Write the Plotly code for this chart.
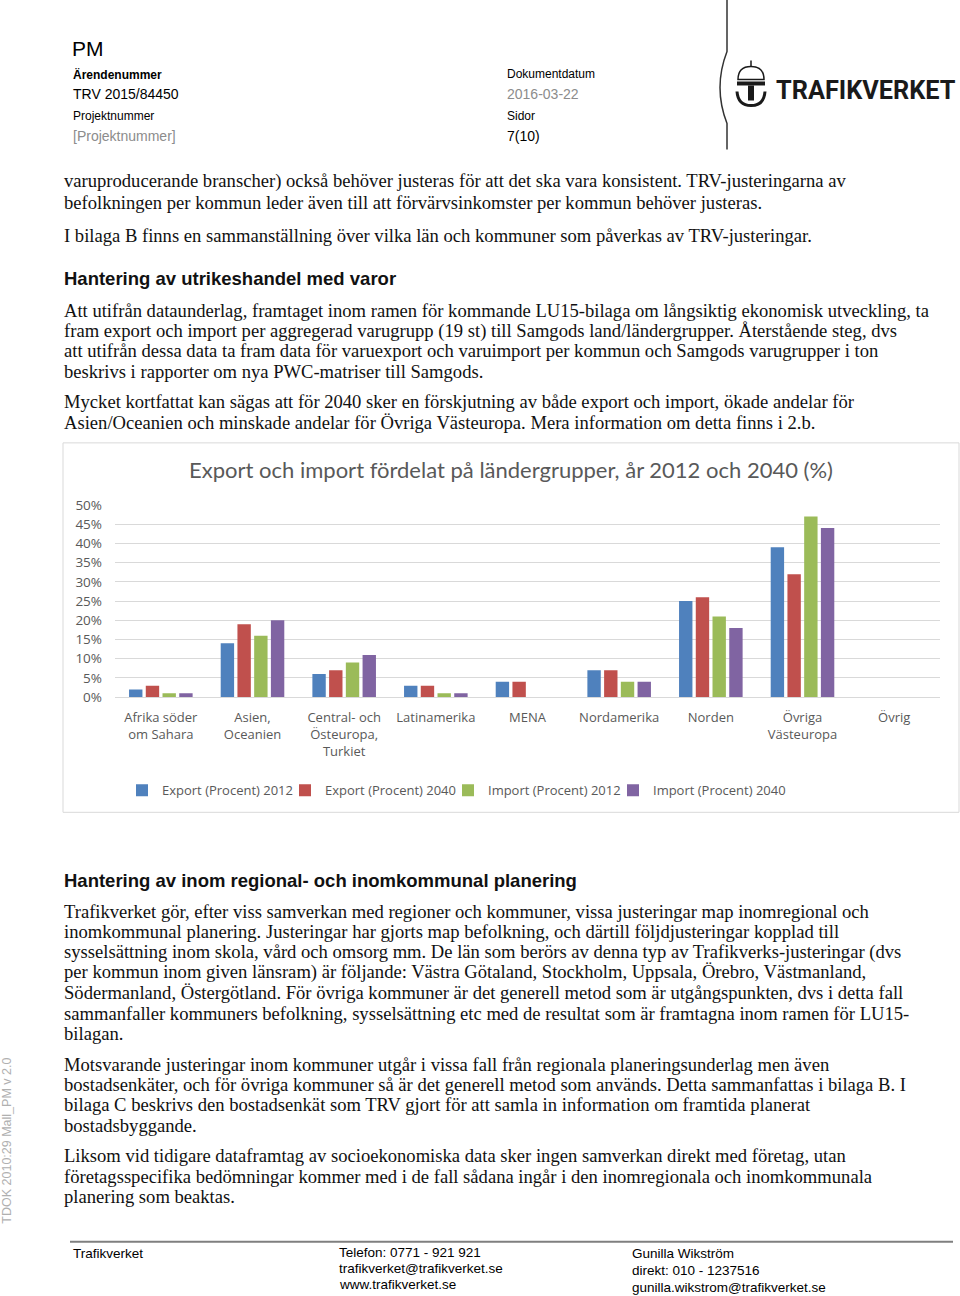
import plotly.graph_objects as go

W, H = 960, 1296
# Fotot av sidan trycker ihop hojden nagot och flyttar ned innehallet;
# kompensera sa att sidans pixlar hamnar dar referensen har dem.
SKALA_Y, FORSKJ_Y = 0.985, 9.6

# --- data -------------------------------------------------------------------
KATEGORIER = [
    "Afrika söder<br>om Sahara",
    "Asien,<br>Oceanien",
    "Central- och<br>Östeuropa,<br>Turkiet",
    "Latinamerika",
    "MENA",
    "Nordamerika",
    "Norden",
    "Övriga<br>Västeuropa",
    "Övrig",
]
EXPORT_2012 = [2, 14, 6, 3, 4, 7, 25, 39, 0]
EXPORT_2040 = [3, 19, 7, 3, 4, 7, 26, 32, 0]
IMPORT_2012 = [1, 16, 9, 1, 0, 4, 21, 47, 0]
IMPORT_2040 = [1, 20, 11, 1, 0, 4, 18, 44, 0]
SERIENAMN = [
    "Export (Procent) 2012",
    "Export (Procent) 2040",
    "Import (Procent) 2012",
    "Import (Procent) 2040",
]
FARGER = ["#4F81BD", "#C0504D", "#9BBB59", "#8064A2"]
Y_TICKS = [0, 5, 10, 15, 20, 25, 30, 35, 40, 45, 50]

TITEL = "Export och import fördelat på ländergrupper, år 2012 och 2040 (%)"

STYCKEN_OVER = [
    (181, "varuproducerande branscher) också behöver justeras för att det ska vara konsistent. TRV-justeringarna av"),
    (203, "befolkningen per kommun leder även till att förvärvsinkomster per kommun behöver justeras."),
    (236, "I bilaga B finns en sammanställning över vilka län och kommuner som påverkas av TRV-justeringar."),
    (311, "Att utifrån dataunderlag, framtaget inom ramen för kommande LU15-bilaga om långsiktig ekonomisk utveckling, ta"),
    (331, "fram export och import per aggregerad varugrupp (19 st) till Samgods land/ländergrupper. Återstående steg, dvs"),
    (351, "att utifrån dessa data ta fram data för varuexport och varuimport per kommun och Samgods varugrupper i ton"),
    (372, "beskrivs i rapporter om nya PWC-matriser till Samgods."),
    (402, "Mycket kortfattat kan sägas att för 2040 sker en förskjutning av både export och import, ökade andelar för"),
    (423, "Asien/Oceanien och minskade andelar för Övriga Västeuropa. Mera information om detta finns i 2.b."),
]
STYCKEN_UNDER = [
    (911, "Trafikverket gör, efter viss samverkan med regioner och kommuner, vissa justeringar map inomregional och"),
    (931, "inomkommunal planering. Justeringar har gjorts map befolkning, och därtill följdjusteringar kopplad till"),
    (952, "sysselsättning inom skola, vård och omsorg mm. De län som berörs av denna typ av Trafikverks-justeringar (dvs"),
    (972, "per kommun inom given länsram) är följande: Västra Götaland, Stockholm, Uppsala, Örebro, Västmanland,"),
    (992, "Södermanland, Östergötland. För övriga kommuner är det generell metod som är utgångspunkten, dvs i detta fall"),
    (1013, "sammanfaller kommuners befolkning, sysselsättning etc med de resultat som är framtagna inom ramen för LU15-"),
    (1033, "bilagan."),
    (1064, "Motsvarande justeringar inom kommuner utgår i vissa fall från regionala planeringsunderlag men även"),
    (1084, "bostadsenkäter, och för övriga kommuner så är det generell metod som används. Detta sammanfattas i bilaga B. I"),
    (1104, "bilaga C beskrivs den bostadsenkät som TRV gjort för att samla in information om framtida planerat"),
    (1125, "bostadsbyggande."),
    (1155, "Liksom vid tidigare dataframtag av socioekonomiska data sker ingen samverkan direkt med företag, utan"),
    (1176, "företagsspecifika bedömningar kommer med i de fall sådana ingår i den inomregionala och inomkommunala"),
    (1196, "planering som beaktas."),
]
RUBRIKER = [
    (279, "Hantering av utrikeshandel med varor"),
    (880, "Hantering av inom regional- och inomkommunal planering"),
]

SERIF = "Liberation Serif, serif"
SANS = "Liberation Sans Narrow, Liberation Sans, Arial, sans-serif"
DIAGRAM = "Open Sans, sans-serif"
GRA = "#595959"

# en legend per serie, placerad dar Excel-legenden har sin text (px)
LEGEND_TEXT_X = [162, 325, 488, 653]
LEGEND_Y = 790


def px(x):
    """Referensens x-pixel -> paper-koordinat."""
    return x / W


def py(y):
    """Referensens y-pixel (uppifran) -> paper-koordinat."""
    return 1 - (y - FORSKJ_Y) / SKALA_Y / H


def text(x, y, s, size, color="#000000", family=SANS, **extra):
    return dict(
        x=px(x), y=py(y), xref="paper", yref="paper", text=s,
        showarrow=False, xanchor="left", yanchor="middle", borderpad=0,
        font={"size": size, "color": color, "family": family}, **extra,
    )


fig = go.Figure()
serier = [EXPORT_2012, EXPORT_2040, IMPORT_2012, IMPORT_2040]
for i, (namn, varden, farg) in enumerate(zip(SERIENAMN, serier, FARGER)):
    fig.add_trace(
        go.Bar(
            x=KATEGORIER, y=varden, name=namn, showlegend=True,
            marker={"color": farg, "line": {"width": 0}},
            legend="legend" if i == 0 else f"legend{i + 1}",
        )
    )

anteckningar = []
# sidhuvud
anteckningar.append(text(71, 49, "PM", 21))
for x, y, s, size, color, fet in [
    (72, 75, "Ärendenummer", 12, "#000000", True),
    (72, 95, "TRV 2015/84450", 14, "#000000", False),
    (72, 116, "Projektnummer", 12, "#000000", False),
    (72, 136, "[Projektnummer]", 14, "#8c8c8c", False),
    (506, 75, "Dokumentdatum", 12, "#000000", False),
    (506, 95, "2016-03-22", 14, "#8c8c8c", False),
    (506, 116, "Sidor", 12, "#000000", False),
    (506, 136, "7(10)", 14, "#000000", False),
]:
    anteckningar.append(text(x, y, f"<b>{s}</b>" if fet else s, size, color))
anteckningar.append(text(775, 91, "<b>TRAFIKVERKET</b>", 25.3, "#1a1a1a", "Roboto, sans-serif"))

# brodtext
for y, s in STYCKEN_OVER + STYCKEN_UNDER:
    anteckningar.append(text(63, y, s, 18.6, "#111111", SERIF))
for y, s in RUBRIKER:
    anteckningar.append(text(63, y, f"<b>{s}</b>", 18.5, "#111111", "Liberation Sans, Arial, sans-serif"))

# sidfot
for x, y, s in [
    (72, 1253, "Trafikverket"),
    (338, 1252, "Telefon: 0771 - 921 921"),
    (338, 1268, "trafikverket@trafikverket.se"),
    (338, 1284, "www.trafikverket.se"),
    (631, 1253, "Gunilla Wikström"),
    (631, 1270, "direkt: 010 - 1237516"),
    (631, 1287, "gunilla.wikstrom@trafikverket.se"),
]:
    anteckningar.append(text(x, y, s, 13.5))
anteckningar.append(dict(
    x=px(7), y=py(1140), xref="paper", yref="paper", text="TDOK 2010:29 Mall_PM v 2.0",
    showarrow=False, textangle=-90, xanchor="center", yanchor="middle",
    font={"size": 12.5, "color": "#b0b0b0", "family": "Liberation Sans, Arial, sans-serif"},
))

former = [
    # ram runt diagrammet
    dict(type="rect", xref="paper", yref="paper", x0=px(63), x1=px(959), y0=py(812), y1=py(443),
         line={"color": "#d9d9d9", "width": 1}),
    # sidfotslinje
    dict(type="line", xref="paper", yref="paper", x0=px(70), x1=px(953), y0=py(1241), y1=py(1241),
         line={"color": "#7f7f7f", "width": 2}),
    # logotypens bagade linje
    dict(type="path", xref="paper", yref="paper",
         path=(f"M {px(727)} {py(0)} L {px(727)} {py(52)} "
               f"Q {px(713)} {py(88)} {px(727)} {py(124)} L {px(727)} {py(150)}"),
         line={"color": "#333333", "width": 1.5}),
    # enkel krona/T-symbol
    dict(type="path", xref="paper", yref="paper",
         path=(f"M {px(738)} {py(80)} Q {px(738)} {py(67)} {px(751)} {py(67)} "
               f"Q {px(764)} {py(67)} {px(764)} {py(80)} Z"),
         line={"color": "#1a1a1a", "width": 1.5}, fillcolor="rgba(0,0,0,0)"),
    dict(type="line", xref="paper", yref="paper", x0=px(751), x1=px(751), y0=py(61), y1=py(67),
         line={"color": "#1a1a1a", "width": 1.5}),
    dict(type="rect", xref="paper", yref="paper", x0=px(737), x1=px(765), y0=py(86), y1=py(82),
         line={"width": 0}, fillcolor="#1a1a1a"),
    dict(type="rect", xref="paper", yref="paper", x0=px(748), x1=px(754), y0=py(101), y1=py(86),
         line={"width": 0}, fillcolor="#1a1a1a"),
    dict(type="path", xref="paper", yref="paper",
         path=(f"M {px(737)} {py(92)} Q {px(738)} {py(106)} {px(751)} {py(106)} "
               f"Q {px(764)} {py(106)} {px(765)} {py(92)}"),
         line={"color": "#1a1a1a", "width": 3}),
]

legender = {}
for i, tx in enumerate(LEGEND_TEXT_X):
    legender["legend" if i == 0 else f"legend{i + 1}"] = {
        "orientation": "h",
        "x": px(tx - 40), "xanchor": "left",
        "y": py(LEGEND_Y), "yanchor": "middle",
        "font": {"size": 13, "color": GRA, "family": DIAGRAM},
        "itemwidth": 30,
        "bgcolor": "rgba(0,0,0,0)",
    }

fig.update_layout(
    width=W,
    height=H,
    margin={"l": 0, "r": 0, "t": 0, "b": 0},
    paper_bgcolor="white",
    plot_bgcolor="white",
    showlegend=True,
    barmode="group",
    bargap=0.27,
    bargroupgap=0.2,
    title={
        "text": TITEL, "x": px(511), "xanchor": "center", "y": py(473), "yanchor": "middle",
        "font": {"size": 22, "color": GRA, "family": "Lato, Open Sans, sans-serif"},
    },
    xaxis={
        "domain": [px(115), px(940)],
        "tickfont": {"size": 13, "color": GRA, "family": DIAGRAM},
        "showline": True,
        "linecolor": "#d9d9d9",
        "ticks": "",
        "tickangle": 0,
        "ticklabelstandoff": 8,
    },
    yaxis={
        "domain": [py(697), py(505)],
        "range": [0, 50],
        "tickvals": Y_TICKS,
        "ticktext": [f"{v}%" for v in Y_TICKS],
        "tickfont": {"size": 13.5, "color": GRA, "family": DIAGRAM},
        "gridcolor": "#d9d9d9",
        "zeroline": False,
        "ticklabelstandoff": 12,
    },
    annotations=anteckningar,
    shapes=former,
    **legender,
)

# Figuren ar hela sidan: lagg den i ovre vanstra hornet utan body-marginal.
placering = (
    "var d = document.getElementById('{plot_id}');"
    "document.body.style.margin = '0';"
    "d.style.position = 'absolute'; d.style.left = '0px'; d.style.top = '0px';"
)
fig.write_html("out.html", post_script=placering, config={"displayModeBar": False})
